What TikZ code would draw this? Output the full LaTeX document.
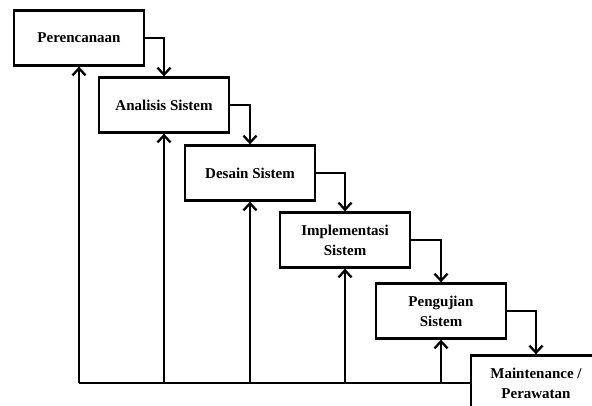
\documentclass[tikz,border=0pt]{standalone}
\usepackage{fontspec}
\setmainfont{Liberation Serif}
\usetikzlibrary{arrows.meta}
\begin{document}
\begin{tikzpicture}[x=1pt,y=-1pt,line width=2.3pt,>={Straight Barb[length=7pt,width=13pt]},
  tahap/.style={draw,fill=white,minimum width=130pt,minimum height=55pt,align=center,font=\bfseries\fontsize{15}{20}\selectfont}]
\clip (0,0) rectangle (592,405);
\node[tahap] (rencana) at (79,38) {Perencanaan};
\node[tahap] (analisis) at (164,105) {Analisis Sistem};
\node[tahap] (desain) at (250,173) {Desain Sistem};
\node[tahap] (implementasi) at (345,240) {Implementasi\\Sistem};
\node[tahap] (uji) at (441,311) {Pengujian\\Sistem};
\node[tahap] (rawat) at (536,383) {Maintenance /\\Perawatan};

\draw[->] (rencana.east) -| (analisis.north);
\draw[->] (analisis.east) -| (desain.north);
\draw[->] (desain.east) -| (implementasi.north);
\draw[->] (implementasi.east) -| (uji.north);
\draw[->] (uji.east) -| (rawat.north);

\draw (rawat.west) -- (rencana.south |- rawat.west);
\foreach \n in {rencana,analisis,desain,implementasi,uji}
  \draw[->] (\n.south |- rawat.west) -- (\n.south);
\end{tikzpicture}
\end{document}
